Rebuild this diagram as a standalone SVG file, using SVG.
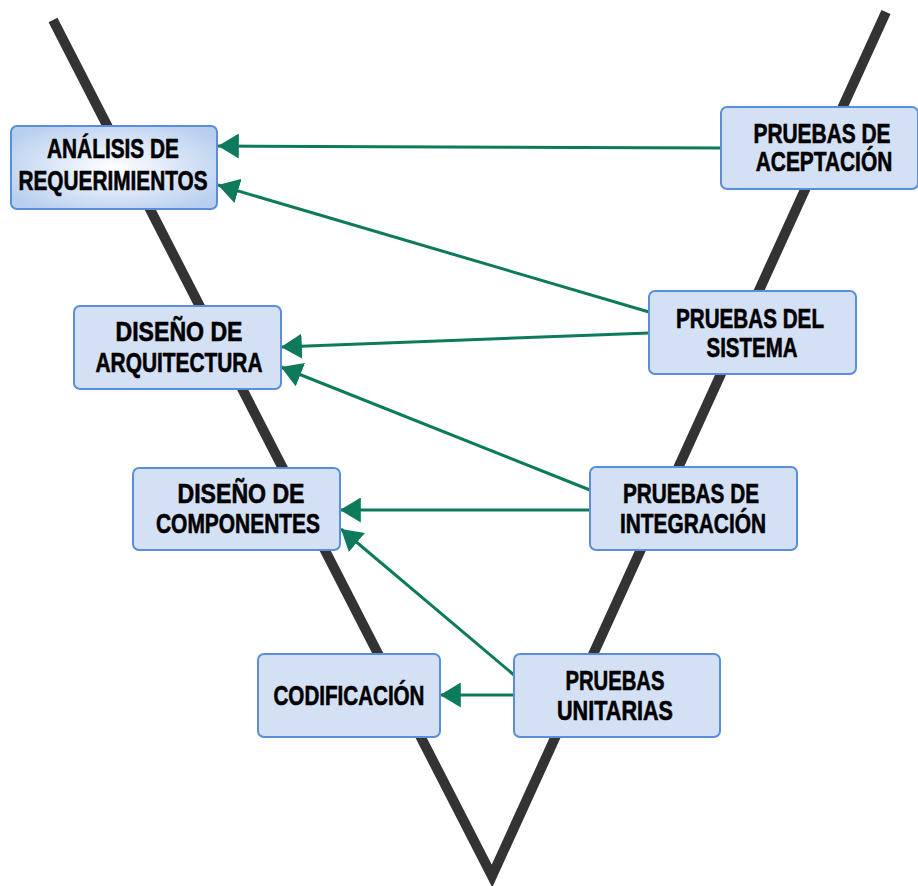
<svg xmlns="http://www.w3.org/2000/svg" width="918" height="886" viewBox="0 0 918 886">
  <defs>
    <radialGradient id="glow" cx="50%" cy="50%" r="60%">
      <stop offset="0" stop-color="#ffffff"/>
      <stop offset="1" stop-color="#b9cff0"/>
    </radialGradient>
    <marker id="head" viewBox="0 0 20 24" refX="20" refY="12" markerWidth="21" markerHeight="25" markerUnits="userSpaceOnUse" orient="auto-start-reverse">
      <path d="M0,0 L20,12 L0,24 Z" fill="#0d7a5c"/>
    </marker>
  </defs>
  <style>
    .box { fill: #d4e1f5; stroke: #5b8ed8; stroke-width: 2; }
    .hl { fill: url(#glow); }
    .lbl { font-family: "Liberation Sans", Arial, sans-serif; font-weight: bold; font-size: 27px; fill: #000; stroke: #000; stroke-width: 0.6; text-anchor: middle; }
    .link { fill: none; stroke: #0d7a5c; stroke-width: 3; marker-end: url(#head); }
    .vee { fill: none; stroke: #333333; stroke-width: 10; stroke-linejoin: miter; }
  </style>
  <rect width="918" height="886" fill="#ffffff"/>

  <!-- V shape -->
  <path class="vee" d="M53,20 L492,876 L886,12"/>

  <!-- connectors -->
  <g id="connectors">
    <line class="link" x1="721" y1="148" x2="218" y2="146"/>
    <line class="link" x1="649" y1="312" x2="218" y2="185"/>
    <line class="link" x1="649" y1="333" x2="281" y2="347"/>
    <line class="link" x1="590" y1="490" x2="281" y2="367"/>
    <line class="link" x1="590" y1="510" x2="340" y2="510"/>
    <line class="link" x1="514" y1="675" x2="341" y2="529"/>
    <line class="link" x1="514" y1="695" x2="440" y2="695"/>
  </g>

  <g id="analisis">
    <rect class="box hl" x="11" y="126" width="206" height="83" rx="6"/>
    <text class="lbl" x="113" y="158" textLength="132" lengthAdjust="spacingAndGlyphs">ANÁLISIS DE</text>
    <text class="lbl" x="113" y="190" textLength="189" lengthAdjust="spacingAndGlyphs">REQUERIMIENTOS</text>
  </g>

  <g id="aceptacion">
    <rect class="box" x="721" y="107" width="197" height="82" rx="6"/>
    <text class="lbl" transform="translate(822,143) scale(0.775,1)">PRUEBAS DE</text>
    <text class="lbl" transform="translate(824,171) scale(0.773,1)">ACEPTACIÓN</text>
  </g>

  <g id="arquitectura">
    <rect class="box" x="74" y="306" width="207" height="83" rx="6"/>
    <text class="lbl" x="179" y="341" textLength="127" lengthAdjust="spacingAndGlyphs">DISEÑO DE</text>
    <text class="lbl" x="179" y="372" textLength="167" lengthAdjust="spacingAndGlyphs">ARQUITECTURA</text>
  </g>

  <g id="sistema">
    <rect class="box" x="649" y="291" width="207" height="83" rx="6"/>
    <text class="lbl" x="750" y="328" textLength="148" lengthAdjust="spacingAndGlyphs">PRUEBAS DEL</text>
    <text class="lbl" x="752" y="357" textLength="91" lengthAdjust="spacingAndGlyphs">SISTEMA</text>
  </g>

  <g id="componentes">
    <rect class="box" x="133" y="468" width="207" height="82" rx="6"/>
    <text class="lbl" x="241" y="503" textLength="127" lengthAdjust="spacingAndGlyphs">DISEÑO DE</text>
    <text class="lbl" x="238" y="533" textLength="164" lengthAdjust="spacingAndGlyphs">COMPONENTES</text>
  </g>

  <g id="integracion">
    <rect class="box" x="590" y="467" width="207" height="83" rx="6"/>
    <text class="lbl" x="691" y="503" textLength="136" lengthAdjust="spacingAndGlyphs">PRUEBAS DE</text>
    <text class="lbl" x="693" y="533" textLength="146" lengthAdjust="spacingAndGlyphs">INTEGRACIÓN</text>
  </g>

  <g id="codificacion">
    <rect class="box" x="258" y="654" width="182" height="83" rx="6"/>
    <text class="lbl" x="349" y="705" textLength="151" lengthAdjust="spacingAndGlyphs">CODIFICACIÓN</text>
  </g>

  <g id="unitarias">
    <rect class="box" x="514" y="654" width="206" height="83" rx="6"/>
    <text class="lbl" x="615" y="690" textLength="99" lengthAdjust="spacingAndGlyphs">PRUEBAS</text>
    <text class="lbl" x="615" y="720" textLength="116" lengthAdjust="spacingAndGlyphs">UNITARIAS</text>
  </g>
</svg>
